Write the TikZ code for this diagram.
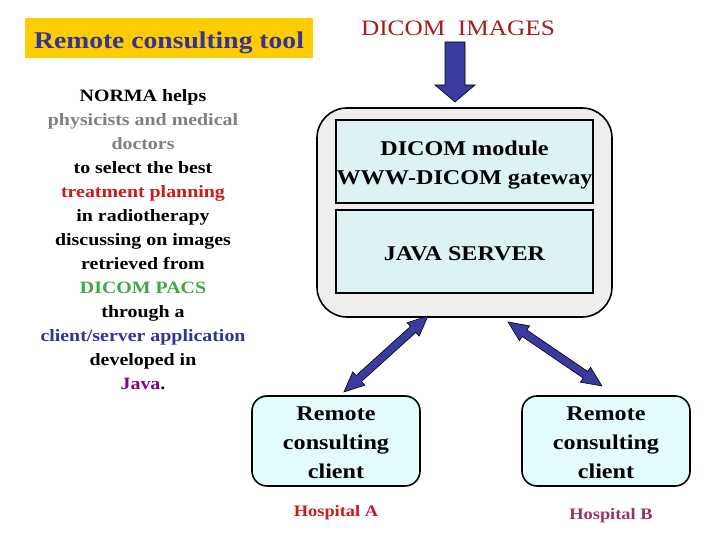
\documentclass[tikz,border=0pt]{standalone}
\usepackage{fontspec}
\setmainfont{Liberation Serif}[FakeStretch=1.15]
\usetikzlibrary{calc}
\definecolor{tblue}{HTML}{333399}
\definecolor{tyellow}{HTML}{FFCC00}
\definecolor{dred}{HTML}{A51C1C}
\definecolor{tred}{HTML}{CC1A1A}
\definecolor{tgray}{HTML}{808080}
\definecolor{tgreen}{HTML}{3BAA44}
\definecolor{tpurple}{HTML}{880088}
\definecolor{hosb}{HTML}{993366}
\definecolor{boxgray}{HTML}{EEEEEE}
\definecolor{innercyan}{HTML}{DDF3F3}
\definecolor{clientcyan}{HTML}{E4FBFB}
\definecolor{arrblue}{HTML}{3A3AA0}
\tikzset{
  innerbox/.style={draw=black, line width=1.6pt, fill=innercyan, minimum width=257pt, minimum height=83pt, inner sep=0pt},
  clientbox/.style={draw=black, line width=1.6pt, fill=clientcyan, rounded corners=15pt, minimum width=168pt, minimum height=90pt, inner sep=0pt},
  boxtext/.style={align=center, inner sep=0pt, font=\fontsize{21}{29}\selectfont\bfseries},
  bigarrow/.style={fill=arrblue, draw=black, line width=0.6pt, line join=miter},
}
\begin{document}
\begin{tikzpicture}[x=1pt,y=1pt]
\useasboundingbox (0,0) rectangle (720,540);
% title
\node[fill=tyellow, minimum width=288pt, minimum height=40pt, inner sep=0pt] (title) at (169,502) {};
\node[text=tblue, inner sep=0pt, font=\fontsize{24}{28}\selectfont\bfseries] (titletext) at ($(title.center)+(0,-5)$) {Remote consulting tool};
\node[text=dred, font=\fontsize{22}{26}\selectfont] (dicomimg) at (458,512) {DICOM\ \ IMAGES};
% down arrow
\coordinate (dtail) at (455,498);
\coordinate (dtip) at (455,438);
\draw[bigarrow] (dtip) -- ++(-20,17) -- ++(10,0) -- ++(0,43) -- ++(20,0) -- ++(0,-43) -- ++(10,0) -- cycle;
% server
\node[draw=black, line width=1.6pt, fill=boxgray, rounded corners=30pt, minimum width=295pt, minimum height=209pt] (server) at (464.5,327.5) {};
\node[innerbox] (dicommod) at (464.5,378.5) {};
\node[boxtext] (dicommodtext) at ($(dicommod.center)+(0,-4)$) {DICOM module\\WWW-DICOM gateway};
\node[innerbox] (javasrv) at (464.5,288.5) {};
\node[boxtext] (javasrvtext) at ($(javasrv.center)+(0,-2)$) {JAVA SERVER};
% left text
\node[align=center, font=\fontsize{17.3}{24}\selectfont\bfseries] (desc) at (143,300) {%
NORMA helps\\
\textcolor{tgray}{physicists and medical}\\
\textcolor{tgray}{doctors}\\
to select the best\\
\textcolor{tred}{treatment planning}\\
in radiotherapy\\
discussing on images\\
retrieved from\\
\textcolor{tgreen}{DICOM PACS}\\
through a\\
\textcolor{tblue}{client/server application}\\
developed in\\
\textcolor{tpurple}{Java}.};
% clients
\node[clientbox] (clientA) at (336,99) {};
\node[boxtext] (clientAtext) at ($(clientA.center)+(0,-2)$) {Remote\\consulting\\client};
\node[clientbox] (clientB) at (606,99) {};
\node[boxtext] (clientBtext) at ($(clientB.center)+(0,-2)$) {Remote\\consulting\\client};
\node[text=tred, font=\fontsize{16}{18}\selectfont\bfseries] (hosA) at (336,27) {Hospital A};
\node[text=hosb, font=\fontsize{16}{18}\selectfont\bfseries] (hosB) at (611,24) {Hospital B};
% double arrows
\coordinate (la1) at (428,224);
\coordinate (la2) at (344,148);
\coordinate (ra1) at (508,218);
\coordinate (ra2) at (602,154);
\begin{scope}[shift={(la1)}, rotate=222.1]
\draw[bigarrow] (0,0) -- (20,9) -- (20,4) -- (93.3,4) -- (93.3,9) -- (113.3,0) -- (93.3,-9) -- (93.3,-4) -- (20,-4) -- (20,-9) -- cycle;
\end{scope}
\begin{scope}[shift={(ra1)}, rotate=-34.25]
\draw[bigarrow] (0,0) -- (20,9) -- (20,4) -- (93.7,4) -- (93.7,9) -- (113.7,0) -- (93.7,-9) -- (93.7,-4) -- (20,-4) -- (20,-9) -- cycle;
\end{scope}
\end{tikzpicture}
\end{document}
